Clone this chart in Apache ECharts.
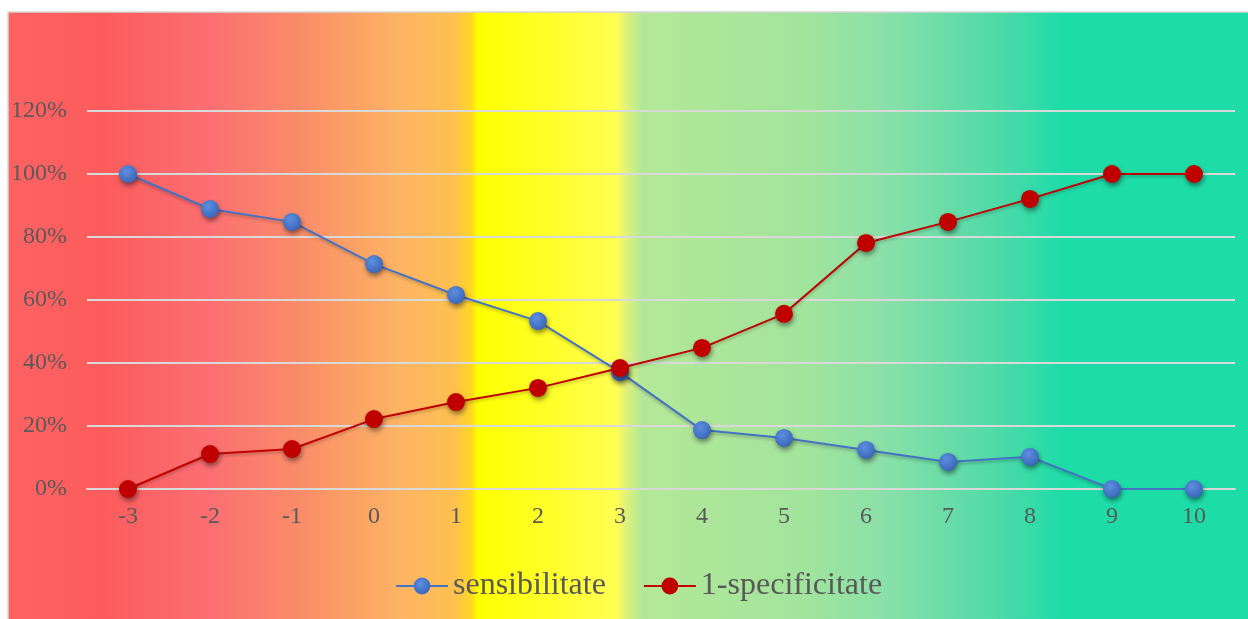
<!DOCTYPE html>
<html>
<head>
<meta charset="utf-8">
<script src="https://cdn.jsdelivr.net/npm/echarts@6/dist/echarts.min.js"></script>
<style>
  html, body { margin: 0; padding: 0; background: #ffffff; }
  #chart { width: 1248px; height: 619px; }
</style>
</head>
<body>
<div id="chart"></div>
<script>
// Score thresholds on the x axis
const categories = ['-3', '-2', '-1', '0', '1', '2', '3', '4', '5', '6', '7', '8', '9', '10'];
// Sensitivity at each threshold (fraction)
const sensibilitate = [1.000, 0.889, 0.848, 0.714, 0.616, 0.533, 0.371, 0.187, 0.162, 0.124, 0.086, 0.102, 0.000, 0.000];
// 1 - specificity at each threshold (fraction)
const specificitate1 = [0.000, 0.111, 0.127, 0.222, 0.276, 0.321, 0.384, 0.448, 0.556, 0.781, 0.848, 0.921, 1.000, 1.000];
// Percent tick labels on the value axis
const yTicks = [0, 0.2, 0.4, 0.6, 0.8, 1.0, 1.2];

const FONT = '"Liberation Serif", "Times New Roman", serif';
const TEXT = '#595959';

const chart = echarts.init(document.getElementById('chart'), null, { renderer: 'canvas' });

const blueMarker = {
  type: 'radial', x: 0.4, y: 0.35, r: 0.65,
  colorStops: [
    { offset: 0, color: '#5f8fe0' },
    { offset: 1, color: '#3a67bb' }
  ]
};

chart.setOption({
  animation: false,
  graphic: [{
    type: 'rect',
    z: -10,
    silent: true,
    shape: { x: 8, y: 12, width: 1242, height: 610 },
    style: {
      stroke: '#d6d6d6',
      lineWidth: 1.5,
      fill: {
        type: 'linear', x: 0, y: 0, x2: 1, y2: 0,
        colorStops: [
          { offset: 0.000, color: '#fd6262' },
          { offset: 0.078, color: '#fc5c5c' },
          { offset: 0.163, color: '#fb6f72' },
          { offset: 0.235, color: '#fa8c69' },
          { offset: 0.316, color: '#fdb464' },
          { offset: 0.360, color: '#fec04f' },
          { offset: 0.3735, color: '#ffd820' },
          { offset: 0.378, color: '#ffff00' },
          { offset: 0.490, color: '#ffff52' },
          { offset: 0.496, color: '#e6f274' },
          { offset: 0.510, color: '#b4e898' },
          { offset: 0.639, color: '#a2e49c' },
          { offset: 0.703, color: '#8ce0a8' },
          { offset: 0.800, color: '#4cdaa8' },
          { offset: 0.848, color: '#1edca8' },
          { offset: 1.000, color: '#1edca8' }
        ]
      }
    }
  }],
  grid: { left: 87, right: 13, top: 111, bottom: 130, containLabel: false },
  legend: {
    left: 395,
    top: 570,
    padding: 0,
    itemWidth: 52,
    itemHeight: 21,
    itemGap: 37,
    textStyle: { fontFamily: FONT, fontSize: 32, color: TEXT },
    data: ['sensibilitate', '1-specificitate']
  },
  xAxis: {
    type: 'category',
    data: categories,
    boundaryGap: true,
    axisLine: { show: true, lineStyle: { color: '#d9d9d9', width: 2 } },
    axisTick: { show: false },
    axisLabel: { fontFamily: FONT, fontSize: 24, color: TEXT, margin: 16 },
    splitLine: { show: false }
  },
  yAxis: {
    type: 'value',
    min: yTicks[0],
    max: yTicks[yTicks.length - 1],
    interval: 0.2,
    axisLine: { show: false },
    axisTick: { show: false },
    axisLabel: {
      fontFamily: FONT, fontSize: 24, color: TEXT, margin: 20,
      formatter: v => Math.round(v * 100) + '%'
    },
    splitLine: { show: true, lineStyle: { color: '#d9d9d9', width: 2 } }
  },
  series: [
    {
      name: 'sensibilitate',
      type: 'line',
      data: sensibilitate,
      symbol: 'circle',
      symbolSize: 18,
      lineStyle: { color: '#4472c4', width: 2, shadowColor: 'rgba(0,0,0,0.25)', shadowBlur: 3, shadowOffsetY: 2 },
      itemStyle: { color: blueMarker, shadowColor: 'rgba(0,0,0,0.45)', shadowBlur: 5, shadowOffsetX: 1, shadowOffsetY: 3 },
      emphasis: { disabled: true }
    },
    {
      name: '1-specificitate',
      type: 'line',
      data: specificitate1,
      symbol: 'circle',
      symbolSize: 18,
      lineStyle: { color: '#c00000', width: 2, shadowColor: 'rgba(0,0,0,0.25)', shadowBlur: 3, shadowOffsetY: 2 },
      itemStyle: { color: '#c00000', shadowColor: 'rgba(0,0,0,0.45)', shadowBlur: 5, shadowOffsetX: 1, shadowOffsetY: 3 },
      emphasis: { disabled: true }
    }
  ]
});
</script>
</body>
</html>
